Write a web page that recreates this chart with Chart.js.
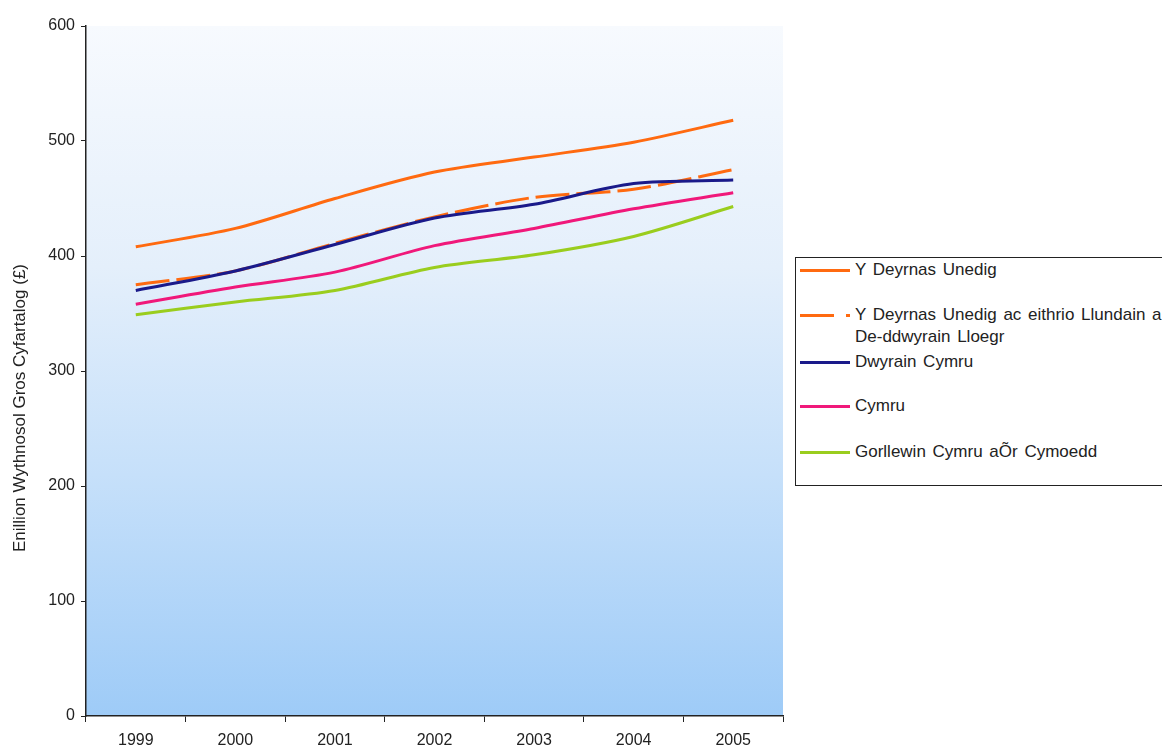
<!DOCTYPE html>
<html>
<head>
<meta charset="utf-8">
<script src="https://cdn.jsdelivr.net/npm/chart.js@4/dist/chart.umd.min.js"></script>
<style>
  html, body { margin: 0; padding: 0; background: #fff; overflow: hidden; }
  #wrap { position: relative; width: 1162px; height: 751px; }
  #legend {
    position: absolute; left: 795px; top: 257px; width: 380px; height: 229px;
    border: 1.5px solid #222; background: #fff; box-sizing: border-box;
    font-family: "Liberation Sans", Arial, sans-serif; font-size: 17px; color: #222;
    word-spacing: 2px;
  }
  .item { position: absolute; left: 4px; display: flex; align-items: flex-start; }
  .swatch { width: 50px; height: 3px; margin-top: 10px; margin-right: 5px; flex-shrink: 0; }
  .label { line-height: 22px; white-space: nowrap; }
</style>
</head>
<body>
<div id="wrap">
  <canvas id="chart" width="1162" height="751"></canvas>
  <div id="legend"></div>
</div>
<script>
'use strict';

const years = ['1999', '2000', '2001', '2002', '2003', '2004', '2005'];
const ukAll      = [408, 424, 450, 473, 486, 499, 518];
const ukExLondon = [375, 387, 411, 434, 451, 458, 475];
const eastWales  = [370, 387, 410, 433, 445, 463, 466];
const wales      = [358, 373, 386, 409, 424, 441, 455];
const westWales  = [349, 360, 370, 390, 401, 417, 443];

const seriesNames = [
  'Y Deyrnas Unedig',
  'Y Deyrnas Unedig ac eithrio Llundain a\nDe-ddwyrain Lloegr',
  'Dwyrain Cymru',
  'Cymru',
  'Gorllewin Cymru aÕr Cymoedd',
];
const seriesColors = ['#ff6a10', '#ff6a10', '#1a1a8a', '#f0187a', '#9acd1e'];
const seriesData = [ukAll, ukExLondon, eastWales, wales, westWales];
const legendTops = [1, 46, 93, 137, 183];

const bgPlugin = {
  id: 'plotBg',
  beforeDraw(chart) {
    const { ctx, chartArea: a } = chart;
    const g = ctx.createLinearGradient(0, a.top, 0, a.bottom);
    g.addColorStop(0, '#f7fafe');
    g.addColorStop(0.35, '#e4effb');
    g.addColorStop(0.65, '#c6e0fa');
    g.addColorStop(1, '#9ecbf7');
    ctx.save();
    ctx.fillStyle = g;
    ctx.fillRect(a.left, a.top, a.right - a.left, a.bottom - a.top);
    ctx.restore();
  },
};

const yTitlePlugin = {
  id: 'yTitle',
  afterDraw(chart) {
    const { ctx } = chart;
    ctx.save();
    ctx.translate(20, 408);
    ctx.rotate(-Math.PI / 2);
    ctx.font = '17px "Liberation Sans", Arial, sans-serif';
    ctx.fillStyle = '#222';
    ctx.textAlign = 'center';
    ctx.textBaseline = 'middle';
    ctx.fillText('Enillion Wythnosol Gros Cyfartalog (£)', 0, 0);
    ctx.restore();
  },
};

const tickFont = { family: '"Liberation Sans", Arial', size: 16 };

new Chart(document.getElementById('chart').getContext('2d'), {
  type: 'line',
  data: {
    labels: years,
    datasets: seriesData.map((d, i) => ({
      label: seriesNames[i],
      data: d,
      borderColor: seriesColors[i],
      backgroundColor: seriesColors[i],
      borderWidth: 3,
      pointRadius: 0,
      tension: 0.3,
      fill: false,
      borderDash: i === 1 ? [34, 7] : [],
      order: i === 1 ? 10 : i,
    })),
  },
  options: {
    responsive: false,
    animation: false,
    layout: { padding: { left: 0, top: 26, right: 379, bottom: 0 } },
    plugins: { legend: { display: false }, tooltip: { enabled: false } },
    scales: {
      x: {
        offset: true,
        grid: { offset: true, drawOnChartArea: false, drawTicks: true, tickLength: 6, color: '#222' },
        border: { color: '#222', width: 1.5 },
        ticks: { color: '#222', padding: 9, font: tickFont },
        afterFit: (s) => { s.height = 35; },
      },
      y: {
        min: 0,
        max: 600,
        ticks: { stepSize: 100, color: '#222', padding: 6, font: tickFont },
        grid: { drawOnChartArea: false, drawTicks: true, tickLength: 5, color: '#222' },
        border: { color: '#222', width: 1.5 },
        afterFit: (s) => { s.width = 86; },
      },
    },
  },
  plugins: [bgPlugin, yTitlePlugin],
});

// legend built from the same arrays
const legend = document.getElementById('legend');
seriesNames.forEach((name, i) => {
  const item = document.createElement('div');
  item.className = 'item';
  item.style.top = legendTops[i] + 'px';
  const sw = document.createElement('div');
  sw.className = 'swatch';
  if (i === 1) {
    sw.style.background = `linear-gradient(to right, ${seriesColors[i]} 0 34px, transparent 34px 46px, ${seriesColors[i]} 46px)`;
  } else {
    sw.style.background = seriesColors[i];
  }
  const lb = document.createElement('div');
  lb.className = 'label';
  lb.innerHTML = name.replace('\n', '<br>');
  item.appendChild(sw);
  item.appendChild(lb);
  legend.appendChild(item);
});
</script>
</body>
</html>
